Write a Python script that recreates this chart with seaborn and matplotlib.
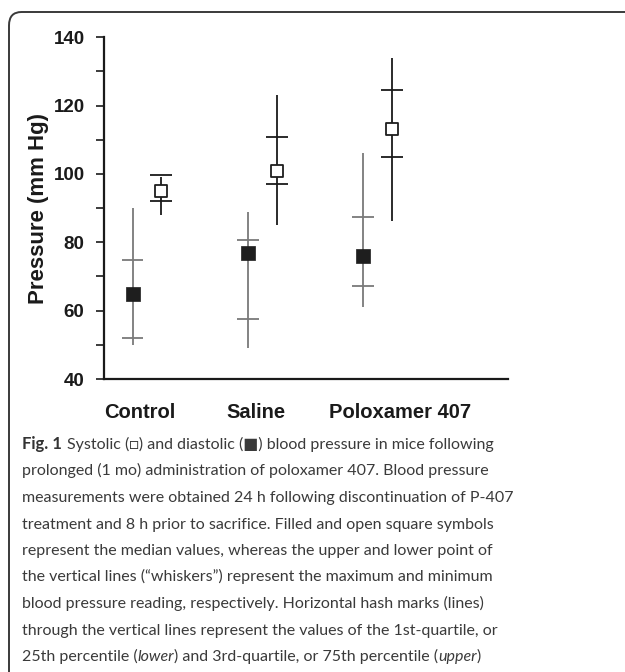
import matplotlib
matplotlib.use('Agg')
import matplotlib.pyplot as plt
from matplotlib.patches import FancyBboxPatch
import seaborn as sns
import pandas as pd

groups = ['Control', 'Saline', 'Poloxamer 407']
# diastolic (filled squares)
dia_med = [65, 77, 76]
dia_max = [90, 89, 106]
dia_min = [50, 49, 61.2]
dia_q3 = [74.7, 80.7, 87.4]
dia_q1 = [52, 57.5, 67.2]
# systolic (open squares)
sys_med = [95, 101, 113.2]
sys_max = [99, 123, 134]
sys_min = [88, 85, 86.2]
sys_q3 = [99.6, 110.9, 124.5]
sys_q1 = [92, 97.2, 105.1]

caption = [
    'prolonged (1 mo) administration of poloxamer 407. Blood pressure',
    'measurements were obtained 24 h following discontinuation of P-407',
    'treatment and 8 h prior to sacrifice. Filled and open square symbols',
    'represent the median values, whereas the upper and lower point of',
    'the vertical lines (\u201cwhiskers\u201d) represent the maximum and minimum',
    'blood pressure reading, respectively. Horizontal hash marks (lines)',
    'through the vertical lines represent the values of the 1st-quartile, or',
]

rows = []
for i, g in enumerate(groups):
    rows.append(dict(group=g, kind='diastolic', x=i - 0.125, med=dia_med[i],
                     lo=dia_min[i], hi=dia_max[i], q1=dia_q1[i], q3=dia_q3[i]))
    rows.append(dict(group=g, kind='systolic', x=i + 0.125, med=sys_med[i],
                     lo=sys_min[i], hi=sys_max[i], q1=sys_q1[i], q3=sys_q3[i]))
df = pd.DataFrame(rows)

sns.set_style('white')
plt.rcParams['font.family'] = ['Liberation Sans', 'DejaVu Sans']

fig = plt.figure(figsize=(6.25, 6.72), dpi=100)
ax = fig.add_axes([0.1664, 0.436, 0.6464, 0.5085])

line_col = {'diastolic': '#7a7a7a', 'systolic': '#1a1a1a'}
for _, r in df.iterrows():
    c = line_col[r['kind']]
    ax.vlines(r['x'], r['lo'], r['hi'], color=c, lw=1.3, zorder=1)
    ax.hlines([r['q1'], r['q3']], r['x'] - 0.095, r['x'] + 0.095, color=c, lw=1.3, zorder=1)

dia = df[df['kind'] == 'diastolic']
sysd = df[df['kind'] == 'systolic']
sns.scatterplot(data=dia, x='x', y='med', ax=ax, marker='s', s=95,
                color='#1e1e1e', edgecolor='#1e1e1e', linewidth=0.5, zorder=3, legend=False)
sns.scatterplot(data=sysd, x='x', y='med', ax=ax, marker='s', s=70,
                facecolor='white', edgecolor='#1e1e1e', linewidth=1.3, zorder=3, legend=False)

ax.set_xlim(-0.372, 3.128)
ax.set_ylim(40, 140)
yt = [40, 60, 80, 100, 120, 140]
ax.set_yticks(yt)
ax.set_yticklabels([str(v) for v in yt], fontsize=13.5, fontweight='bold', color='#1a1a1a')
ax.set_yticks([50, 70, 90, 110, 130], minor=True)
ax.set_xticks([-0.06, 0.944, 2.19])
ax.set_xticklabels(groups, fontsize=14.5, fontweight='bold', color='#1a1a1a')
ax.tick_params(axis='x', length=0, pad=17)
ax.tick_params(axis='y', which='both', left=True, length=6, width=1.2, color='#1a1a1a',
               direction='out', pad=8)
ax.set_xlabel('')
ax.set_ylabel('Pressure (mm Hg)', fontsize=16, fontweight='bold', color='#1a1a1a', labelpad=3)
for s in ['top', 'right']:
    ax.spines[s].set_visible(False)
for s in ['left', 'bottom']:
    ax.spines[s].set_color('#1a1a1a')
    ax.spines[s].set_linewidth(1.6)

# rounded frame around figure + caption
frame = FancyBboxPatch((9 / 625, -0.2), 1.2, 0.2 + 1 - 12 / 672,
                       boxstyle='round,pad=0,rounding_size=0.02',
                       transform=fig.transFigure, fill=False, edgecolor='#3a3a3a',
                       lw=1.4, clip_on=False)
fig.patches.append(frame)

cap_font = ['Lato', 'DejaVu Sans']
cap_size = 11.5
cap_col = '#3a3a3a'
x0 = 22 / 625
y1 = 1 - 449 / 672
dy = 26.5 / 672
fig_t = fig.text(x0, y1, 'Fig. 1', fontsize=cap_size + 0.5, fontweight='bold', family=cap_font,
                 color='#333333', va='baseline')
fig.canvas.draw()
bb = fig_t.get_window_extent()
fig.text(x0 + (bb.width + 5) / 625, y1,
         'Systolic (\u25a1) and diastolic (\u25a0) blood pressure in mice following',
         fontsize=cap_size, family=cap_font, color=cap_col, va='baseline')
for k, line in enumerate(caption):
    fig.text(x0, y1 - (k + 1) * dy, line, fontsize=cap_size, family=cap_font,
             color=cap_col, va='baseline')
# last line with italic words
yl = y1 - 8 * dy
parts = [('25th percentile (', 'normal'), ('lower', 'italic'),
         (') and 3rd-quartile, or 75th percentile (', 'normal'),
         ('upper', 'italic'), (')', 'normal')]
xc = x0
for txt, st in parts:
    t = fig.text(xc, yl, txt, fontsize=cap_size, family=cap_font, style=st,
                 color=cap_col, va='baseline')
    fig.canvas.draw()
    xc += t.get_window_extent().width / 625

fig.savefig('out.png', dpi=100)
